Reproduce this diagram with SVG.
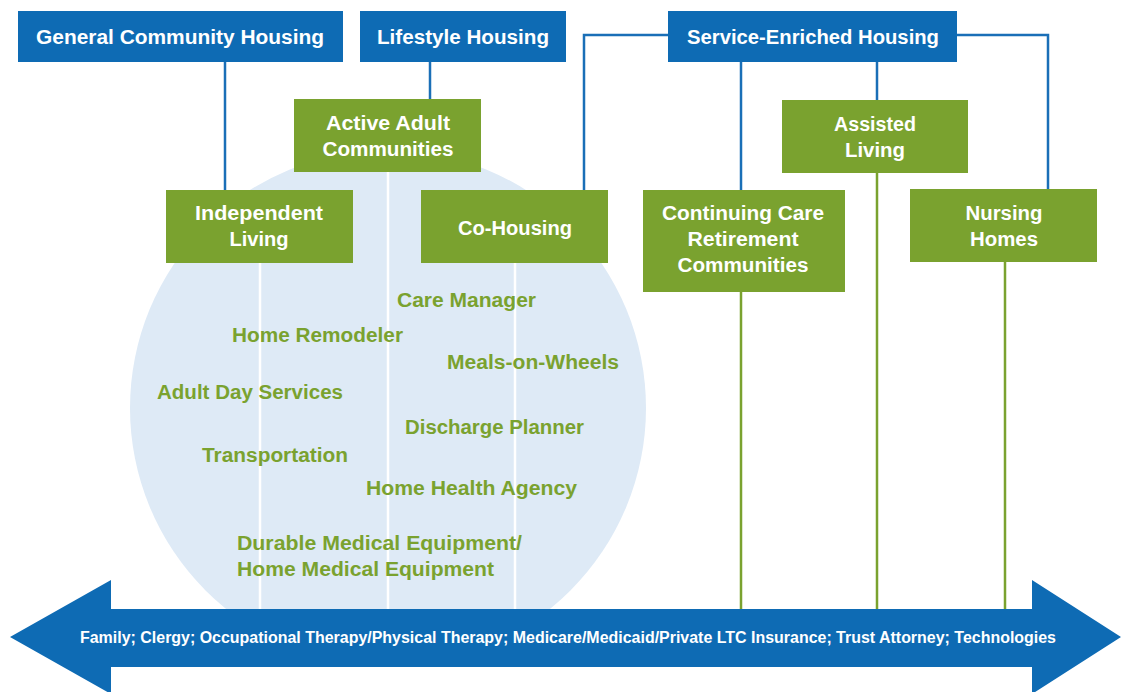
<svg xmlns="http://www.w3.org/2000/svg" width="1121" height="692" viewBox="0 0 1121 692">
<style>
.blue{fill:#0e6bb4}
.green{fill:#7aa22f}
.hd{font-family:"Liberation Sans",Arial,sans-serif;font-weight:bold;font-size:20px;fill:#ffffff;text-anchor:middle}
.gt{font-family:"Liberation Sans",Arial,sans-serif;font-weight:bold;font-size:20px;fill:#7aa22f}
.bl{stroke:#1a6fb7;stroke-width:2.5;fill:none}
.gl{stroke:#7aa22f;stroke-width:2.5;fill:none}
.wl{stroke:#ffffff;stroke-width:2.5;fill:none}
</style>
<rect width="1121" height="692" fill="#ffffff"/>
<circle id="services-circle" cx="388" cy="408" r="258" fill="#deeaf6"/>
<g id="connectors">
<path class="bl" d="M225 62V190"/>
<path class="bl" d="M430 62V99"/>
<path class="bl" d="M668 35H584V190"/>
<path class="bl" d="M957 35H1048V189"/>
<path class="bl" d="M741 62V190"/>
<path class="bl" d="M877 62V100"/>
<path class="wl" d="M260 263V609"/>
<path class="wl" d="M388 172V609"/>
<path class="wl" d="M515 263V609"/>
<path class="gl" d="M741 292V609"/>
<path class="gl" d="M877 173V609"/>
<path class="gl" d="M1005 262V609"/>
</g>
<g id="general-community-housing"><rect class="blue" x="18" y="11" width="325" height="51"/><text class="hd" x="180" y="44" textLength="288" lengthAdjust="spacingAndGlyphs">General Community Housing</text></g>
<g id="lifestyle-housing"><rect class="blue" x="360" y="11" width="206" height="51"/><text class="hd" x="463" y="44" textLength="172" lengthAdjust="spacingAndGlyphs">Lifestyle Housing</text></g>
<g id="service-enriched-housing"><rect class="blue" x="668" y="11" width="289" height="51"/><text class="hd" x="813" y="44" textLength="252" lengthAdjust="spacingAndGlyphs">Service-Enriched Housing</text></g>
<g id="active-adult-communities"><rect class="green" x="294" y="99" width="187" height="73"/><text class="hd" x="388" y="130" textLength="124" lengthAdjust="spacingAndGlyphs">Active Adult</text><text class="hd" x="388" y="156" textLength="131" lengthAdjust="spacingAndGlyphs">Communities</text></g>
<g id="independent-living"><rect class="green" x="166" y="190" width="187" height="73"/><text class="hd" x="259" y="220" textLength="128" lengthAdjust="spacingAndGlyphs">Independent</text><text class="hd" x="259" y="246" textLength="59" lengthAdjust="spacingAndGlyphs">Living</text></g>
<g id="co-housing"><rect class="green" x="421" y="190" width="187" height="73"/><text class="hd" x="515" y="235" textLength="114" lengthAdjust="spacingAndGlyphs">Co-Housing</text></g>
<g id="assisted-living"><rect class="green" x="782" y="100" width="186" height="73"/><text class="hd" x="875" y="131" textLength="82" lengthAdjust="spacingAndGlyphs">Assisted</text><text class="hd" x="875" y="157" textLength="60" lengthAdjust="spacingAndGlyphs">Living</text></g>
<g id="ccrc"><rect class="green" x="643" y="190" width="202" height="102"/><text class="hd" x="743" y="220" textLength="162" lengthAdjust="spacingAndGlyphs">Continuing Care</text><text class="hd" x="743" y="246" textLength="111" lengthAdjust="spacingAndGlyphs">Retirement</text><text class="hd" x="743" y="272" textLength="131" lengthAdjust="spacingAndGlyphs">Communities</text></g>
<g id="nursing-homes"><rect class="green" x="910" y="189" width="187" height="73"/><text class="hd" x="1004" y="220" textLength="77" lengthAdjust="spacingAndGlyphs">Nursing</text><text class="hd" x="1004" y="246" textLength="68" lengthAdjust="spacingAndGlyphs">Homes</text></g>
<g id="services">
<text class="gt" x="397" y="307" textLength="139" lengthAdjust="spacingAndGlyphs">Care Manager</text>
<text class="gt" x="232" y="342" textLength="171" lengthAdjust="spacingAndGlyphs">Home Remodeler</text>
<text class="gt" x="447" y="369" textLength="172" lengthAdjust="spacingAndGlyphs">Meals-on-Wheels</text>
<text class="gt" x="157" y="399" textLength="186" lengthAdjust="spacingAndGlyphs">Adult Day Services</text>
<text class="gt" x="405" y="434" textLength="179" lengthAdjust="spacingAndGlyphs">Discharge Planner</text>
<text class="gt" x="202" y="462" textLength="146" lengthAdjust="spacingAndGlyphs">Transportation</text>
<text class="gt" x="366" y="495" textLength="211" lengthAdjust="spacingAndGlyphs">Home Health Agency</text>
<text class="gt" x="237" y="550" textLength="285" lengthAdjust="spacingAndGlyphs">Durable Medical Equipment/</text>
<text class="gt" x="237" y="576" textLength="257" lengthAdjust="spacingAndGlyphs">Home Medical Equipment</text>
</g>
<g id="support-arrow">
<polygon class="blue" points="10,637 111,580 111,609 1032,609 1032,580 1121,637 1032,694 1032,667 111,667 111,694"/>
<text x="568" y="643" font-family="Liberation Sans, Arial, sans-serif" font-weight="bold" font-size="16" fill="#ffffff" text-anchor="middle" textLength="976" lengthAdjust="spacingAndGlyphs">Family; Clergy; Occupational Therapy/Physical Therapy; Medicare/Medicaid/Private LTC Insurance; Trust Attorney; Technologies</text>
</g>
</svg>
